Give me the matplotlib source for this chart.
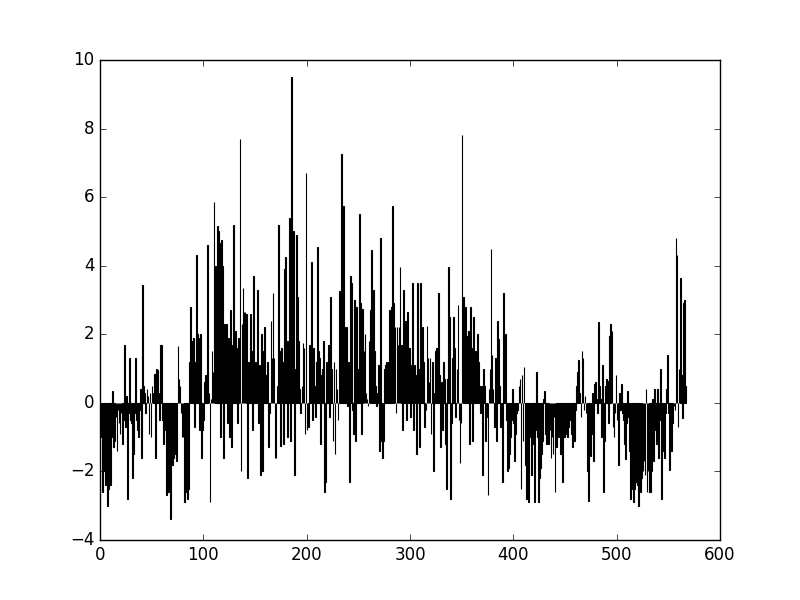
import matplotlib
matplotlib.use("Agg")
import matplotlib.pyplot as plt
import numpy as np

plt.style.use("classic")

values = [
    -1.0, -0.5, -2.6, -1.5, -2.0, -2.4, -1.2, -3.0, -2.5, -1.5,
    -2.4, -1.0, 0.35, -1.3, -1.1, -0.4, -1.4, -0.2, -0.6, -0.9,
    -0.3, -1.2, -0.5, 1.7, -0.7, 0.2, -2.8, -0.3, 1.3, -0.5,
    -0.6, -2.2, -1.5, -0.3, 1.3, -0.5, -0.8, -1.0, -0.2, 0.4,
    -1.6, 3.45, 0.5, 0.3, -0.3, 0.4, 0.2, -0.9, 0.3, -1.0,
    0.5, 0.3, 0.85, -1.6, 1.0, 0.95, 0.3, -0.5, 1.7, 1.7,
    -0.5, -1.2, -0.8, -0.5, -2.7, -1.5, -2.6, -1.0, -3.4, -1.6,
    -1.8, -1.6, -1.5, -0.8, -1.7, 1.65, 0.7, 0.5, -0.3, -1.0,
    -1.0, -2.9, -2.6, -0.5, -2.8, -2.5, 1.2, 2.8, 1.15, 1.8,
    1.9, -0.7, 1.2, 4.3, 2.0, 1.9, -0.8, 2.0, -1.6, -0.8,
    -0.5, 0.6, 0.8, 0.7, 4.6, 0.3, -2.9, 0.1, 1.5, 0.9,
    5.85, 4.0, 2.0, 5.15, 5.0, 4.65, -1.0, 4.75, 4.0, -1.6,
    2.3, 1.8, 2.3, -0.6, 1.9, -1.0, 2.7, -1.3, 1.7, 5.2,
    2.0, 2.1, 1.6, -0.6, 1.9, 7.7, -2.0, 2.3, 3.35, 2.65,
    2.65, 2.6, -2.2, 1.2, 0.5, 2.6, 1.5, -0.8, 3.7, 1.0,
    1.2, 0.5, 3.3, -0.6, 1.1, -2.1, 2.0, -2.0, 1.5, 2.2,
    0.3, 0.8, 1.2, -1.3, -0.3, 2.4, 1.3, 3.2, 1.3, -1.6,
    -1.6, 0.5, 5.2, 1.5, -1.25, 1.6, 1.2, -1.2, 3.9, 4.25,
    1.8, -1.0, 1.8, 5.4, -1.1, 9.5, 1.9, 5.0, -2.1, 1.0,
    4.9, 3.1, 1.8, 0.4, -0.3, 0.5, 1.75, 1.6, -0.9, 6.7,
    -0.8, -0.7, 1.7, 0.5, 4.1, -0.5, 1.6, 0.5, -0.4, 1.2,
    4.55, 1.5, 1.3, -1.2, 0.8, 1.0, 1.8, -2.6, -2.3, 1.2,
    0.4, 1.7, -0.4, 3.1, 1.0, -1.1, 1.2, -1.5, 1.0, 0.4,
    -0.5, 3.25, 1.0, 7.25, 5.6, 5.75, 2.2, 1.5, 2.2, -0.1,
    1.2, -2.3, 3.7, 3.5, -0.2, -0.9, 3.0, -1.1, 2.8, 1.0,
    1.0, 5.5, 2.9, -0.9, 2.75, 1.5, 2.0, 0.3, 0.1, -0.1,
    1.8, 2.7, 4.45, 1.5, 3.3, 1.5, 0.5, -0.1, 0.3, 1.1,
    -1.4, 4.8, -1.1, -1.6, -1.1, 1.0, 1.1, 1.2, 0.9, 1.2,
    2.7, 2.2, 2.8, 5.75, 2.9, 2.2, -0.3, 2.2, 1.7, 2.2,
    3.95, 1.7, -0.8, 3.3, 1.6, 2.4, -0.5, 2.65, 1.1, 1.6,
    -0.4, 1.1, 3.5, -0.8, 1.1, 0.8, -1.5, 3.5, 1.0, -1.3,
    3.5, 1.2, 2.2, 1.2, -0.7, -0.2, 2.25, 1.3, 0.6, 1.3,
    -0.9, 1.2, -2.0, 0.3, 1.5, 1.6, 0.8, 3.2, 0.8, -1.3,
    0.6, -0.8, 1.2, 0.7, -1.2, -2.5, 0.7, 3.95, 2.5, -2.8,
    -0.6, 1.3, 2.5, 1.6, -0.4, 1.0, 2.85, -0.5, -1.75, -0.6,
    7.8, 3.1, 1.9, 2.8, 1.5, 1.95, 2.1, -1.2, 2.8, 1.6,
    -1.1, 2.5, 1.2, 1.5, 0.6, 2.0, 1.2, 0.5, -0.3, 0.5,
    -2.1, 1.0, 0.5, -1.1, -0.4, -2.7, 0.4, 1.0, 4.5, 1.4,
    0.4, -0.7, 1.3, -1.1, 2.4, 1.85, 0.5, -0.7, -0.2, -2.3,
    3.2, 0.5, 2.0, -0.5, -2.0, -1.9, -1.5, -1.0, -0.5, 0.4,
    -0.6, -1.7, -0.9, -0.3, -0.2, 0.5, 0.7, -2.5, 0.8, -1.1,
    1.05, -1.8, -2.8, -1.5, -2.9, -0.5, -1.0, -2.1, -1.2, -0.6,
    -2.9, -0.8, 0.9, -1.0, -2.9, -2.2, -1.9, -1.5, -1.1, 0.1,
    0.35, -0.9, -1.2, -0.6, -1.2, -0.8, -1.6, -1.0, -1.5, -0.4,
    -2.6, -1.3, -0.3, -1.0, -0.5, -1.5, -1.2, -2.3, -0.7, -1.0,
    -0.6, -0.9, -1.0, -0.7, -0.5, -0.5, -0.9, -1.3, -0.4, -1.1,
    -0.2, 0.5, 0.9, 1.25, 0.3, -0.4, 1.5, 1.3, -0.2, 0.2,
    -0.3, -2.0, -2.85, -0.5, -1.55, -0.9, 0.3, -1.7, 0.55, 0.6,
    0.1, -0.3, 2.35, 0.5, 0.1, -1.0, 1.1, -2.6, -1.1, 0.5,
    0.7, 0.65, -0.6, 1.95, 2.3, 2.1, -0.7, -1.0, -0.3, 0.8,
    -0.5, -1.8, 0.3, -0.2, 0.55, -0.3, -0.5, -1.2, -1.65, -0.6,
    0.35, -0.4, -1.4, -2.8, -2.4, -2.5, -2.9, -2.5, -1.9, -2.3,
    -2.4, -3.0, -1.5, -2.6, -2.2, -2.0, -1.7, -2.1, 0.4, -2.6,
    -2.0, -2.6, -2.6, -2.0, 0.1, -1.7, 0.4, -0.8, -1.2, 0.4,
    -1.6, -0.5, 1.0, -2.8, -1.4, -1.0, -1.6, -0.3, 0.4, 1.4,
    -0.3, -1.95, -0.6, -1.4, -0.6, -0.1, -0.2, 4.8, 4.3, -0.7,
    1.0, 3.65, 0.8, -0.45, 2.9, 3.0, 0.5,
]
positions = np.arange(len(values))

fig = plt.figure(figsize=(8, 6), dpi=100)
ax = fig.add_subplot(111)
ax.bar(positions, values, width=0.8, align="edge", color="k",
       edgecolor="k", linewidth=0.8)
ax.set_xlim(0, 600)
ax.set_ylim(-4, 10)
fig.savefig("out.png", dpi=100)
